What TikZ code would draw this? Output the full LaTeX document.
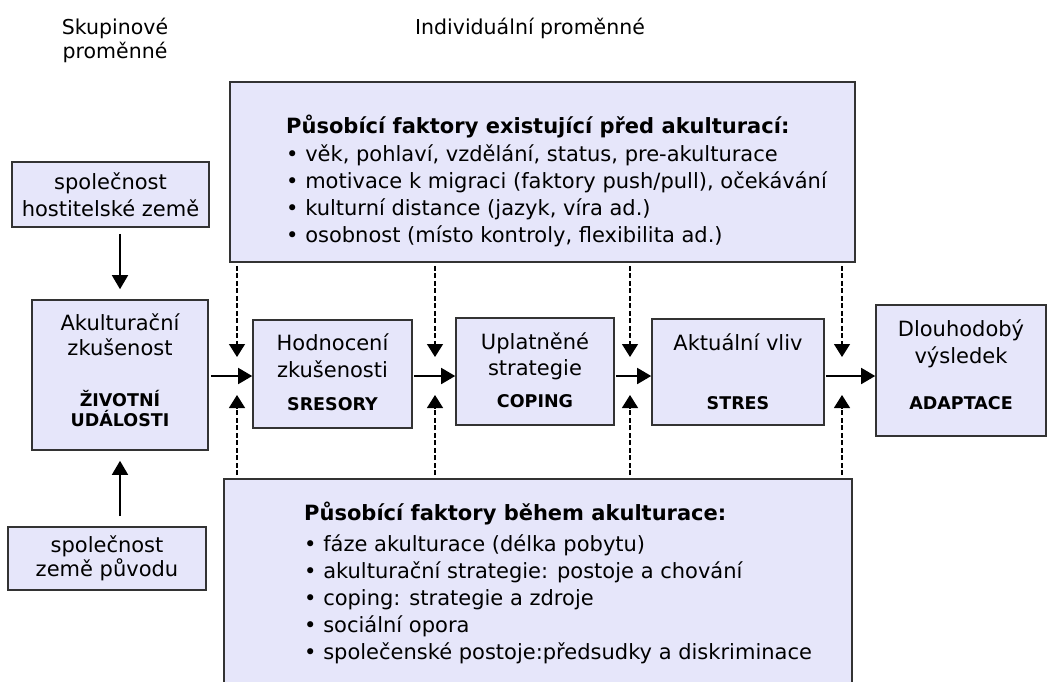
\documentclass[tikz,border=0pt]{standalone}
\usepackage{fontspec}
\setmainfont{DejaVu Sans}
\usetikzlibrary{arrows.meta}
\definecolor{boxfill}{RGB}{230,230,250}
\definecolor{boxline}{RGB}{51,51,51}
\newcommand{\boxlbl}{\bfseries\fontsize{17.5}{20}\selectfont}
\begin{document}
\begin{tikzpicture}[x=1pt,y=-1pt,
  box/.style={draw=boxline, line width=1.6pt, fill=boxfill, inner sep=0pt, align=center,
    font=\fontsize{21}{27}\selectfont},
  bigbox/.style={draw=boxline, line width=1.6pt, fill=boxfill, inner sep=0pt},
  txt/.style={inner sep=0pt, align=left, font=\fontsize{21}{27}\selectfont},
  head/.style={inner sep=0pt, align=center, font=\fontsize{20.5}{24}\selectfont},
  flow/.style={line width=1.6pt, -{Triangle[width=16pt,length=14pt]}},
  infl/.style={line width=1.3pt, dash pattern=on 5pt off 2.5pt, -{Triangle[width=16pt,length=13pt]}},
]
\clip (0,0) rectangle (1048,681);
\fill[white] (0,0) rectangle (1048,681);

% headings
\node[head] (hgroup) at (115,40) {Skupinové\\proměnné};
\node[head] (hind) at (530,28) {Individuální proměnné};

% big boxes
\node[bigbox, minimum width=625pt, minimum height=180pt] (topbox) at (542.5,172) {};
\node[txt, anchor=north west] (toptext) at (286,114.5) {%
  \textbf{Působící faktory existující před akulturací:}\\[1pt]
  • věk, pohlaví, vzdělání, status, pre-akulturace\\
  • motivace k migraci (faktory push/pull), očekávání\\
  • kulturní distance (jazyk, víra ad.)\\
  • osobnost (místo kontroly, flexibilita ad.)};

\node[bigbox, minimum width=628pt, minimum height=242pt] (botbox) at (538,600) {};
\node[txt, anchor=north west] (bottext) at (304,501.5) {%
  \textbf{Působící faktory během akulturace:}\\[4pt]
  • fáze akulturace (délka pobytu)\\
  • akulturační strategie: postoje a chování\\
  • coping: strategie a zdroje\\
  • sociální opora\\
  • společenské postoje:předsudky a diskriminace};

% left column
\node[box, minimum width=197pt, minimum height=65pt] (host) at (110.5,194.5) {společnost\\hostitelské země};
\node[box, minimum width=176pt, minimum height=150pt, text depth=10pt] (akult) at (120,375)
  {Akulturační\\[-2pt]zkušenost\\[24pt]{\boxlbl ŽIVOTNÍ}\\[-7pt]{\boxlbl UDÁLOSTI}};
\node[box, minimum width=198pt, minimum height=63pt] (origin) at (107,558.5) {společnost\\[-3pt]země původu};

% process boxes
\node[box, minimum width=159pt, minimum height=108pt, text depth=4pt] (hodn) at (332.5,374)
  {Hodnocení\\zkušenosti\\[6pt]{\boxlbl SRESORY}};
\node[box, minimum width=158pt, minimum height=107pt, text depth=2pt] (upl) at (535,371.5)
  {Uplatněné\\[-1pt]strategie\\[5pt]{\boxlbl COPING}};
\node[box, minimum width=172pt, minimum height=106pt] (akt) at (738,372)
  {Aktuální vliv\\[32pt]{\boxlbl STRES}};
\node[box, minimum width=170pt, minimum height=131pt, text depth=12pt] (dlouh) at (961,370.5)
  {Dlouhodobý\\výsledek\\[19pt]{\boxlbl ADAPTACE}};

% flow arrows
\coordinate (row) at (0,376);
\draw[flow, shorten <=2pt] (akult.east |- row) -- (hodn.west |- row);
\draw[flow, shorten <=1pt] (hodn.east |- row) -- (upl.west |- row);
\draw[flow, shorten <=1pt] (upl.east |- row) -- (akt.west |- row);
\draw[flow, shorten <=1pt] (akt.east |- row) -- (dlouh.west |- row);

\draw[flow, shorten <=6pt, shorten >=10pt] (akult.north |- host.south) -- (akult.north);
\draw[flow, shorten <=10pt, shorten >=10pt] (akult.south |- origin.north) -- (akult.south);

% influence arrows
\coordinate (d1) at (237,357);
\coordinate (d2) at (435,357);
\coordinate (d3) at (630,357);
\coordinate (d4) at (842,357);
\coordinate (u1) at (237,395);
\coordinate (u2) at (435,395);
\coordinate (u3) at (630,395);
\coordinate (u4) at (842,395);
\foreach \i in {1,2,3,4}{
  \draw[infl, shorten <=3pt] (topbox.south -| d\i) -- (d\i);
  \draw[infl, shorten <=3pt] (botbox.north -| u\i) -- (u\i);
}
\end{tikzpicture}
\end{document}
